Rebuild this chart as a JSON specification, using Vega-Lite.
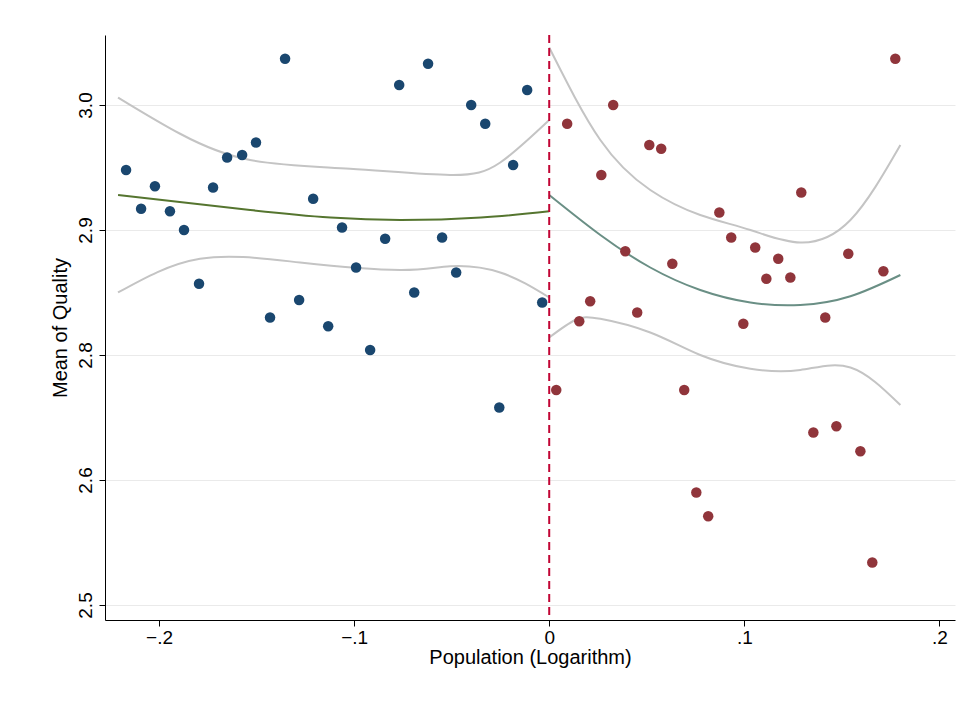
{
  "$schema": "https://vega.github.io/schema/vega-lite/v6.json",
  "width": 850,
  "height": 585,
  "autosize": "none",
  "padding": {"left": 105, "top": 35, "right": 14, "bottom": 89},
  "background": "white",
  "config": {"view": {"stroke": null}, "font": "Liberation Sans"},
  "datasets": {
    "pts": [
      {"x": -0.2169, "y": 2.948, "side": "L"}, {"x": -0.2092, "y": 2.917, "side": "L"}, {"x": -0.2021, "y": 2.935, "side": "L"},
      {"x": -0.1944, "y": 2.915, "side": "L"}, {"x": -0.1872, "y": 2.900, "side": "L"}, {"x": -0.1795, "y": 2.857, "side": "L"},
      {"x": -0.1723, "y": 2.934, "side": "L"}, {"x": -0.1651, "y": 2.958, "side": "L"}, {"x": -0.1574, "y": 2.960, "side": "L"},
      {"x": -0.1503, "y": 2.970, "side": "L"}, {"x": -0.1431, "y": 2.830, "side": "L"}, {"x": -0.1354, "y": 3.037, "side": "L"},
      {"x": -0.1282, "y": 2.844, "side": "L"}, {"x": -0.1210, "y": 2.925, "side": "L"}, {"x": -0.1133, "y": 2.823, "side": "L"},
      {"x": -0.1062, "y": 2.902, "side": "L"}, {"x": -0.0990, "y": 2.870, "side": "L"}, {"x": -0.0918, "y": 2.804, "side": "L"},
      {"x": -0.0841, "y": 2.893, "side": "L"}, {"x": -0.0769, "y": 3.016, "side": "L"}, {"x": -0.0692, "y": 2.850, "side": "L"},
      {"x": -0.0621, "y": 3.033, "side": "L"}, {"x": -0.0549, "y": 2.894, "side": "L"}, {"x": -0.0477, "y": 2.866, "side": "L"},
      {"x": -0.0400, "y": 3.000, "side": "L"}, {"x": -0.0328, "y": 2.985, "side": "L"}, {"x": -0.0256, "y": 2.758, "side": "L"},
      {"x": -0.0185, "y": 2.952, "side": "L"}, {"x": -0.0113, "y": 3.012, "side": "L"}, {"x": -0.0036, "y": 2.842, "side": "L"},
      {"x": 0.0036, "y": 2.772, "side": "R"}, {"x": 0.0092, "y": 2.985, "side": "R"}, {"x": 0.0154, "y": 2.827, "side": "R"},
      {"x": 0.0210, "y": 2.843, "side": "R"}, {"x": 0.0267, "y": 2.944, "side": "R"}, {"x": 0.0328, "y": 3.000, "side": "R"},
      {"x": 0.0390, "y": 2.883, "side": "R"}, {"x": 0.0451, "y": 2.834, "side": "R"}, {"x": 0.0513, "y": 2.968, "side": "R"},
      {"x": 0.0574, "y": 2.965, "side": "R"}, {"x": 0.0631, "y": 2.873, "side": "R"}, {"x": 0.0692, "y": 2.772, "side": "R"},
      {"x": 0.0754, "y": 2.690, "side": "R"}, {"x": 0.0815, "y": 2.671, "side": "R"}, {"x": 0.0872, "y": 2.914, "side": "R"},
      {"x": 0.0933, "y": 2.894, "side": "R"}, {"x": 0.0995, "y": 2.825, "side": "R"}, {"x": 0.1056, "y": 2.886, "side": "R"},
      {"x": 0.1113, "y": 2.861, "side": "R"}, {"x": 0.1174, "y": 2.877, "side": "R"}, {"x": 0.1236, "y": 2.862, "side": "R"},
      {"x": 0.1292, "y": 2.930, "side": "R"}, {"x": 0.1354, "y": 2.738, "side": "R"}, {"x": 0.1415, "y": 2.830, "side": "R"},
      {"x": 0.1472, "y": 2.743, "side": "R"}, {"x": 0.1533, "y": 2.881, "side": "R"}, {"x": 0.1595, "y": 2.723, "side": "R"},
      {"x": 0.1656, "y": 2.634, "side": "R"}, {"x": 0.1713, "y": 2.867, "side": "R"}, {"x": 0.1774, "y": 3.037, "side": "R"}
    ],
    "lines": [
      {"s": "Lfit", "x": -0.221, "y": 2.928}, {"s": "Lfit", "x": -0.1533, "y": 2.916}, {"s": "Lfit", "x": -0.1121, "y": 2.910},
      {"s": "Lfit", "x": -0.0764, "y": 2.908}, {"s": "Lfit", "x": -0.035, "y": 2.910}, {"s": "Lfit", "x": 0, "y": 2.915},
      {"s": "Lup", "x": -0.221, "y": 3.006}, {"s": "Lup", "x": -0.1892, "y": 2.977}, {"s": "Lup", "x": -0.1533, "y": 2.956},
      {"s": "Lup", "x": -0.1021, "y": 2.949}, {"s": "Lup", "x": -0.0508, "y": 2.944}, {"s": "Lup", "x": -0.0251, "y": 2.954},
      {"s": "Lup", "x": 0, "y": 2.988},
      {"s": "Llo", "x": -0.221, "y": 2.850}, {"s": "Llo", "x": -0.179, "y": 2.877}, {"s": "Llo", "x": -0.1277, "y": 2.874},
      {"s": "Llo", "x": -0.0764, "y": 2.868}, {"s": "Llo", "x": -0.0508, "y": 2.871}, {"s": "Llo", "x": -0.0251, "y": 2.866},
      {"s": "Llo", "x": 0, "y": 2.846},
      {"s": "Rfit", "x": 0, "y": 2.928}, {"s": "Rfit", "x": 0.0262, "y": 2.896}, {"s": "Rfit", "x": 0.0518, "y": 2.870},
      {"s": "Rfit", "x": 0.0774, "y": 2.852}, {"s": "Rfit", "x": 0.1031, "y": 2.842}, {"s": "Rfit", "x": 0.1287, "y": 2.840},
      {"s": "Rfit", "x": 0.1544, "y": 2.847}, {"s": "Rfit", "x": 0.18, "y": 2.864},
      {"s": "Rup", "x": 0, "y": 3.046}, {"s": "Rup", "x": 0.0262, "y": 2.972}, {"s": "Rup", "x": 0.0518, "y": 2.932},
      {"s": "Rup", "x": 0.0774, "y": 2.912}, {"s": "Rup", "x": 0.1031, "y": 2.900}, {"s": "Rup", "x": 0.1287, "y": 2.890},
      {"s": "Rup", "x": 0.1544, "y": 2.908}, {"s": "Rup", "x": 0.18, "y": 2.968},
      {"s": "Rlo", "x": 0, "y": 2.814}, {"s": "Rlo", "x": 0.0133, "y": 2.828}, {"s": "Rlo", "x": 0.0262, "y": 2.829},
      {"s": "Rlo", "x": 0.0518, "y": 2.818}, {"s": "Rlo", "x": 0.0774, "y": 2.800}, {"s": "Rlo", "x": 0.1031, "y": 2.789},
      {"s": "Rlo", "x": 0.1287, "y": 2.788}, {"s": "Rlo", "x": 0.1544, "y": 2.790}, {"s": "Rlo", "x": 0.18, "y": 2.760}
    ],
    "cut": [{"x": 0}]
  },
  "encoding": {
    "x": {
      "field": "x", "type": "quantitative",
      "scale": {"domain": [-0.2277, 0.208], "nice": false, "zero": false},
      "axis": {
        "title": "Population (Logarithm)", "titleFontSize": 20, "titleFontWeight": "normal", "titleColor": "black",
        "values": [-0.2, -0.1, 0, 0.1, 0.2], "grid": false,
        "labelExpr": "datum.value == 0 ? '0' : replace(format(datum.value, '.1f'), '0.', '.')",
        "labelFontSize": 19, "labelColor": "black", "domainColor": "black", "tickColor": "black", "tickSize": 6, "titlePadding": 0
      }
    },
    "y": {
      "field": "y", "type": "quantitative",
      "scale": {"domain": [2.588, 3.056], "nice": false, "zero": false},
      "axis": {
        "title": "Mean of Quality", "titleFontSize": 20, "titleFontWeight": "normal", "titleColor": "black",
        "values": [2.6, 2.7, 2.8, 2.9, 3.0], "grid": true, "gridColor": "#eaeaea",
        "labelExpr": "datum.value == 2.7 ? '2.6' : datum.value == 2.6 ? '2.5' : format(datum.value, '.1f')",
        "labelAngle": -90, "labelAlign": "center", "labelBaseline": "bottom", "labelPadding": 4,
        "labelFontSize": 19, "labelColor": "black", "domainColor": "black", "tickColor": "black", "tickSize": 6, "titlePadding": 6
      }
    }
  },
  "resolve": {"scale": {"color": "independent"}},
  "layer": [
    {
      "data": {"name": "lines"},
      "mark": {"type": "line", "strokeWidth": 2, "interpolate": "natural"},
      "encoding": {
        "detail": {"field": "s"},
        "color": {
          "field": "s", "type": "nominal", "legend": null,
          "scale": {"domain": ["Lfit", "Lup", "Llo", "Rfit", "Rup", "Rlo"], "range": ["#55752f", "#c4c4c4", "#c4c4c4", "#6a8f85", "#c4c4c4", "#c4c4c4"]}
        }
      }
    },
    {
      "data": {"name": "cut"},
      "mark": {"type": "rule", "color": "#c10534", "strokeWidth": 2, "strokeDash": [8, 5]},
      "encoding": {"y": {"value": 0}, "y2": {"value": 585}}
    },
    {
      "data": {"name": "pts"},
      "mark": {"type": "circle", "size": 110, "opacity": 1},
      "encoding": {
        "color": {"field": "side", "type": "nominal", "legend": null, "scale": {"domain": ["L", "R"], "range": ["#1a476f", "#90353b"]}}
      }
    }
  ]
}
